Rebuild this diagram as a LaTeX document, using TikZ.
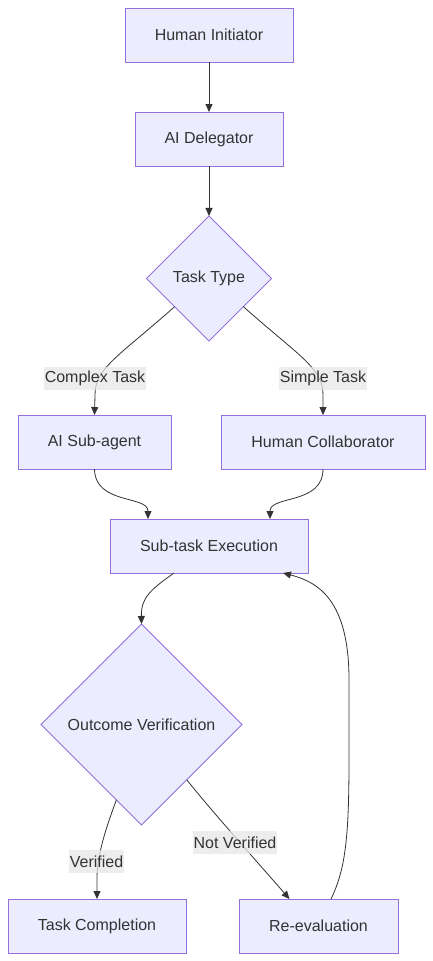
\documentclass[tikz,border=0pt]{standalone}
\usepackage{fontspec}
\setmainfont{Liberation Sans}
\usetikzlibrary{shapes.geometric,arrows.meta,calc}
\definecolor{nodefill}{HTML}{ECECFF}
\definecolor{nodeline}{HTML}{9370DB}
\definecolor{ink}{HTML}{333333}
\definecolor{lblbg}{HTML}{E8E8E8}
\begin{document}
\begin{tikzpicture}[x=1pt,y=-1pt,
  every node/.style={font=\fontsize{16pt}{19pt}\selectfont, text=ink},
  procbox/.style={draw=nodeline, fill=nodefill, line width=1pt, rectangle, minimum height=54pt, inner sep=0pt, outer sep=0pt},
  decision/.style={draw=nodeline, fill=nodefill, line width=1pt, diamond, aspect=1, inner sep=0pt, outer sep=0pt},
  flow/.style={draw=ink, line width=0.8pt, -{Triangle[length=8pt,width=7pt]}},
  edgelabel/.style={fill=lblbg, fill opacity=0.75, text opacity=1, inner xsep=1pt, inner ysep=0pt, minimum height=23pt}
]
\useasboundingbox (0,0) rectangle (433,961);
\fill[white] (0,0) rectangle (433,961);

\node[procbox, minimum width=168pt] (hi) at (209,35) {\raisebox{-1pt}{Human Initiator}};
\node[procbox, minimum width=148pt] (ad) at (209,139) {\raisebox{-1pt}{AI Delegator}};
\node[decision, minimum width=125pt, minimum height=125pt] (tt) at (209,278.5) {\raisebox{-1pt}{Task Type}};
\node[procbox, minimum width=153pt] (sa) at (94.5,442) {\raisebox{-1pt}{AI Sub-agent}};
\node[procbox, minimum width=204pt] (hc) at (323,442) {\raisebox{-1pt}{Human Collaborator}};
\node[procbox, minimum width=198pt] (se) at (209,546) {\raisebox{-1pt}{Sub-task Execution}};
\node[decision, minimum width=201pt, minimum height=201pt] (ov) at (141.5,724.5) {\raisebox{-1pt}{Outcome Verification}};
\node[procbox, minimum width=178pt] (tc) at (97,926) {\raisebox{-1pt}{Task Completion}};
\node[procbox, minimum width=159pt] (re) at (318.5,926) {\raisebox{-1pt}{Re-evaluation}};

\draw[flow] (hi) -- (ad);
\draw[flow] (ad) -- (tt);
\draw[flow] ($(tt.south west)!0.1!(tt.west)$) .. controls (118,357) and (95,368) .. (95,395) -- (sa.north);
\draw[flow] ($(tt.south east)!0.1!(tt.east)$) .. controls (300,357) and (323,368) .. (323,395) -- (hc.north);
\draw[flow] (sa.south) .. controls (95,505) and (148,495) .. ($(se.north)+(-61,0)$);
\draw[flow] (hc.south) .. controls (323,505) and (270,495) .. ($(se.north)+(61,0)$);
\draw[flow] ($(se.south)+(-35,0)$) .. controls (150,590) and (141,598) .. (ov.north);
\draw[flow] ($(ov.south west)!0.5!(ov.south)$) .. controls (106,828) and (97,855) .. (97,878) -- (tc.north);
\draw[flow] ($(ov.south east)!0.1!(ov.south)$) .. controls (215,815) and (260,865) .. ($(re.north)+(-29,0)$);
\draw[flow] ($(re.north)+(12.5,0)$) .. controls (345,870) and (349,840) .. (349,760) -- (349,680) .. controls (349,600) and (318,582) .. ($(se.south)+(74,0)$);

\node[edgelabel] (lc) at (95,378.5) {\raisebox{-1pt}{Complex Task}};
\node[edgelabel] (ls) at (323,378.5) {\raisebox{-1pt}{Simple Task}};
\node[edgelabel] (lv) at (96.5,861.5) {\raisebox{-1pt}{Verified}};
\node[edgelabel] (ln) at (235,842.5) {\raisebox{-1pt}{Not Verified}};
\end{tikzpicture}
\end{document}
